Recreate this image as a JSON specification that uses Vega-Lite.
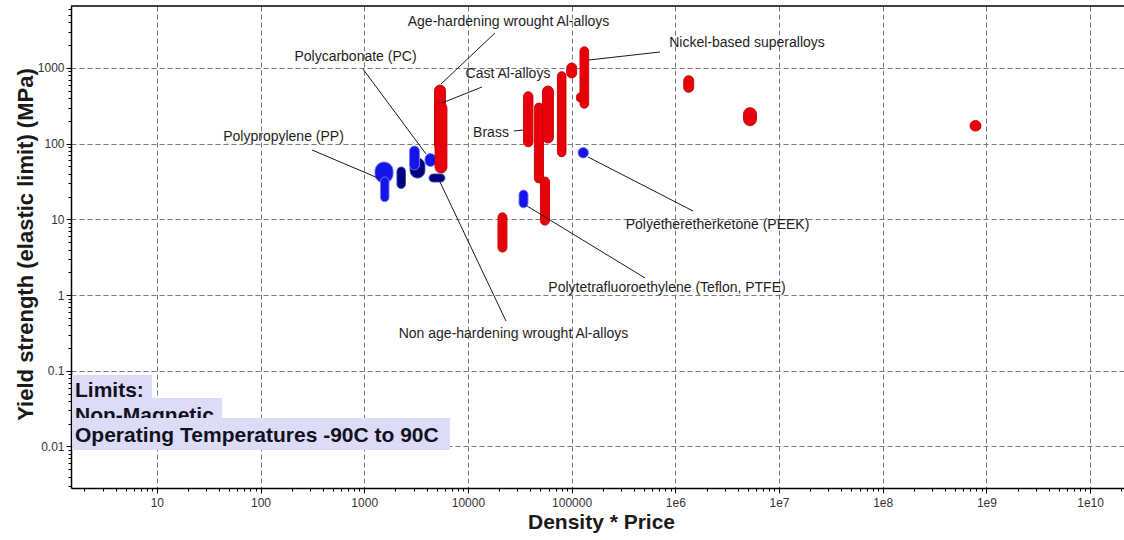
{
  "$schema": "https://vega.github.io/schema/vega-lite/v6.json",
  "width": 1053,
  "height": 482,
  "autosize": {"type": "none"},
  "padding": {"left": 71, "top": 6, "right": 0, "bottom": 52},
  "background": "white",
  "config": {
    "font": "Liberation Sans",
    "view": {"stroke": null}
  },
  "datasets": {
    "materials": [
      {"material": "Polypropylene (PP)", "family": "Polymers", "dp_lo": 1270, "dp_hi": 1900, "ys_lo": 30.3, "ys_hi": 57.3},
      {"material": "Polymer 2", "family": "Polymers", "dp_lo": 1435, "dp_hi": 1735, "ys_lo": 17.1, "ys_hi": 36.3},
      {"material": "Polymer 3", "family": "Other", "dp_lo": 2070, "dp_hi": 2500, "ys_lo": 25.6, "ys_hi": 49.2},
      {"material": "Polymer 4", "family": "Other", "dp_lo": 2770, "dp_hi": 3850, "ys_lo": 35.2, "ys_hi": 64.7},
      {"material": "Polymer 5", "family": "Polymers", "dp_lo": 2735, "dp_hi": 3410, "ys_lo": 45, "ys_hi": 93.3},
      {"material": "Polycarbonate (PC)", "family": "Polymers", "dp_lo": 3855, "dp_hi": 4920, "ys_lo": 50, "ys_hi": 74.3},
      {"material": "Age-hardening wrought Al-alloys", "family": "Metals", "dp_lo": 4765, "dp_hi": 6080, "ys_lo": 83, "ys_hi": 595},
      {"material": "Cast Al-alloys", "family": "Metals", "dp_lo": 4820, "dp_hi": 6280, "ys_lo": 41, "ys_hi": 355},
      {"material": "Metal 4", "family": "Metals", "dp_lo": 19500, "dp_hi": 23800, "ys_lo": 3.7, "ys_hi": 12.2},
      {"material": "Polytetrafluoroethylene (Teflon, PTFE)", "family": "Polymers", "dp_lo": 31100, "dp_hi": 38000, "ys_lo": 14.2, "ys_hi": 24.4},
      {"material": "Brass", "family": "Metals", "dp_lo": 34400, "dp_hi": 42400, "ys_lo": 91, "ys_hi": 486},
      {"material": "Metal 6", "family": "Metals", "dp_lo": 43800, "dp_hi": 53600, "ys_lo": 30.3, "ys_hi": 345},
      {"material": "Metal 7", "family": "Metals", "dp_lo": 52400, "dp_hi": 66800, "ys_lo": 102, "ys_hi": 578},
      {"material": "Metal 8", "family": "Metals", "dp_lo": 50100, "dp_hi": 61200, "ys_lo": 8.4, "ys_hi": 36.3},
      {"material": "Metal 9", "family": "Metals", "dp_lo": 73000, "dp_hi": 88300, "ys_lo": 67.3, "ys_hi": 894},
      {"material": "Metal 10", "family": "Metals", "dp_lo": 89700, "dp_hi": 112000, "ys_lo": 738, "ys_hi": 1164},
      {"material": "Metal 11", "family": "Metals", "dp_lo": 111500, "dp_hi": 130300, "ys_lo": 355, "ys_hi": 468},
      {"material": "Nickel-based superalloys", "family": "Metals", "dp_lo": 120500, "dp_hi": 146000, "ys_lo": 294, "ys_hi": 1910},
      {"material": "Polyetheretherketone (PEEK)", "family": "Polymers", "dp_lo": 115300, "dp_hi": 145500, "ys_lo": 64.7, "ys_hi": 89.1},
      {"material": "Metal 12", "family": "Metals", "dp_lo": 1205000, "dp_hi": 1503000, "ys_lo": 477, "ys_hi": 791},
      {"material": "Metal 13", "family": "Metals", "dp_lo": 4550000, "dp_hi": 6070000, "ys_lo": 173, "ys_hi": 299},
      {"material": "Metal 14", "family": "Metals", "dp_lo": 695000000, "dp_hi": 887000000, "ys_lo": 147, "ys_hi": 202},
      {"material": "Non age-hardening wrought Al-alloys", "family": "Other", "dp_lo": 4218, "dp_hi": 6010, "ys_lo": 31.2, "ys_hi": 39.8}
    ],
    "labels": [
      {"label": "Age-hardening wrought Al-alloys", "lx": 24640, "ly": 4053, "ax": 18250, "ay": 2900, "bx": 5503, "by": 614.5},
      {"label": "Polycarbonate (PC)", "lx": 824, "ly": 1409, "ax": 973.6, "ay": 970, "bx": 3944, "by": 73.1},
      {"label": "Cast Al-alloys", "lx": 24360, "ly": 833, "ax": 13680, "ay": 561, "bx": 5626, "by": 345},
      {"label": "Nickel-based superalloys", "lx": 4914000, "ly": 2107, "ax": 712000, "ay": 1627, "bx": 147200, "by": 1276},
      {"label": "Polypropylene (PP)", "lx": 166.7, "ly": 123.8, "ax": 313.7, "ay": 82.6, "bx": 1359, "by": 35.2},
      {"label": "Brass", "lx": 16700, "ly": 137.2, "ax": 27840, "ay": 147.2, "bx": 33990, "by": 151.7},
      {"label": "Polyetheretherketone (PEEK)", "lx": 2552000, "ly": 8.43, "ax": 1482000, "ay": 12.91, "bx": 143900, "by": 66.7},
      {"label": "Polytetrafluoroethylene (Teflon, PTFE)", "lx": 832000, "ly": 1.241, "ax": 510400, "ay": 1.682, "bx": 37150, "by": 15.03},
      {"label": "Non age-hardening wrought Al-alloys", "lx": 27530, "ly": 0.306, "ax": 23300, "ay": 0.4548, "bx": 5383, "by": 31.2}
    ],
    "notes": [
      {"line": 1, "note": "Limits:", "bx0": 1.53, "bx1": 8.99, "by0": 0.0411, "by1": 0.088, "tx": 1.626, "ty": 0.0447},
      {"line": 2, "note": "Non-Magnetic", "bx0": 1.53, "bx1": 42.6, "by0": 0.0231, "by1": 0.0438, "tx": 1.626, "ty": 0.0212},
      {"line": 3, "note": "Operating Temperatures -90C to 90C", "bx0": 1.53, "bx1": 6715, "by0": 0.009, "by1": 0.02379, "tx": 1.626, "ty": 0.011468}
    ]
  },
  "layer": [
    {
      "data": {"name": "materials"},
      "mark": {"type": "rect", "cornerRadius": 200, "strokeWidth": 0.9},
      "encoding": {
        "x": {
          "field": "dp_lo",
          "type": "quantitative",
          "scale": {"type": "log", "domain": [1.488, 21230000000], "nice": false, "zero": false},
          "axis": {
            "title": "Density * Price",
            "values": [2, 3, 4, 5, 6, 7, 8, 9, 10, 20, 30, 40, 50, 60, 70, 80, 90, 100, 200, 300, 400, 500, 600, 700, 800, 900, 1000, 2000, 3000, 4000, 5000, 6000, 7000, 8000, 9000, 10000, 20000, 30000, 40000, 50000, 60000, 70000, 80000, 90000, 100000, 200000, 300000, 400000, 500000, 600000, 700000, 800000, 900000, 1000000, 2000000, 3000000, 4000000, 5000000, 6000000, 7000000, 8000000, 9000000, 10000000, 20000000, 30000000, 40000000, 50000000, 60000000, 70000000, 80000000, 90000000, 100000000, 200000000, 300000000, 400000000, 500000000, 600000000, 700000000, 800000000, 900000000, 1000000000, 2000000000, 3000000000, 4000000000, 5000000000, 6000000000, 7000000000, 8000000000, 9000000000, 10000000000, 20000000000],
            "labelExpr": "abs(log(datum.value) / LN10 - round(log(datum.value) / LN10)) < 0.001 ? (datum.value >= 1000000 ? '1e' + round(log(datum.value) / LN10) : '' + datum.value) : ''",
            "labelOverlap": false,
            "labelFlush": false,
            "labelFontSize": 12,
            "labelColor": "#333333",
            "labelPadding": 4,
            "tickSize": {"condition": {"test": "abs(log(datum.value) / LN10 - round(log(datum.value) / LN10)) < 0.001", "value": 5}, "value": 3},
            "tickColor": "#000000",
            "domainColor": "#000000",
            "domainWidth": 1.5,
            "grid": true,
            "gridColor": "#7a7a7a",
            "gridDash": [5, 3],
            "gridWidth": 1,
            "gridOpacity": {"condition": {"test": "abs(log(datum.value) / LN10 - round(log(datum.value) / LN10)) < 0.001", "value": 1}, "value": 0},
            "titleFontSize": 21,
            "titleFontWeight": "bold",
            "titleColor": "#1a1a1a",
            "titleX": 530,
            "titleY": 34,
            "titleAlign": "center",
            "titleBaseline": "middle"
          }
        },
        "x2": {"field": "dp_hi"},
        "y": {
          "field": "ys_lo",
          "type": "quantitative",
          "scale": {"type": "log", "domain": [0.002829, 6592], "nice": false, "zero": false},
          "axis": {
            "title": "Yield strength (elastic limit) (MPa)",
            "values": [0.003, 0.004, 0.005, 0.006, 0.007, 0.008, 0.009, 0.01, 0.02, 0.03, 0.04, 0.05, 0.06, 0.07, 0.08, 0.09, 0.1, 0.2, 0.3, 0.4, 0.5, 0.6, 0.7, 0.8, 0.9, 1, 2, 3, 4, 5, 6, 7, 8, 9, 10, 20, 30, 40, 50, 60, 70, 80, 90, 100, 200, 300, 400, 500, 600, 700, 800, 900, 1000, 2000, 3000, 4000, 5000, 6000],
            "labelExpr": "abs(log(datum.value) / LN10 - round(log(datum.value) / LN10)) < 0.001 ? '' + datum.value : ''",
            "labelOverlap": false,
            "labelFlush": false,
            "labelFontSize": 12,
            "labelColor": "#333333",
            "labelPadding": 2,
            "tickSize": {"condition": {"test": "abs(log(datum.value) / LN10 - round(log(datum.value) / LN10)) < 0.001", "value": 5}, "value": 3},
            "tickColor": "#000000",
            "domainColor": "#000000",
            "domainWidth": 1.5,
            "grid": true,
            "gridColor": "#7a7a7a",
            "gridDash": [5, 3],
            "gridWidth": 1,
            "gridOpacity": {"condition": {"test": "abs(log(datum.value) / LN10 - round(log(datum.value) / LN10)) < 0.001", "value": 1}, "value": 0},
            "titleFontSize": 22,
            "titleFontWeight": "bold",
            "titleColor": "#1a1a1a",
            "titleAngle": 270,
            "titleX": -46,
            "titleY": 238,
            "titleAlign": "center",
            "titleBaseline": "middle"
          }
        },
        "y2": {"field": "ys_hi"},
        "fill": {
          "field": "family",
          "type": "nominal",
          "scale": {"domain": ["Metals", "Polymers", "Other"], "range": ["#e8000b", "#1414e8", "#00007e"]},
          "legend": null
        },
        "stroke": {
          "field": "family",
          "type": "nominal",
          "scale": {"domain": ["Metals", "Polymers", "Other"], "range": ["#c20000", "#7c7cff", "#4040b0"]},
          "legend": null
        }
      }
    },
    {
      "data": {"values": [{"top": 6592}]},
      "mark": {"type": "rule", "color": "#000000", "strokeWidth": 1.5},
      "encoding": {"y": {"field": "top", "type": "quantitative"}}
    },
    {
      "data": {"name": "labels"},
      "mark": {"type": "rule", "color": "#1a1a1a", "strokeWidth": 1},
      "encoding": {
        "x": {"field": "ax", "type": "quantitative"},
        "y": {"field": "ay", "type": "quantitative"},
        "x2": {"field": "bx"},
        "y2": {"field": "by"}
      }
    },
    {
      "data": {"name": "labels"},
      "mark": {"type": "text", "fontSize": 14, "color": "#1e1e1e", "align": "center", "baseline": "middle"},
      "encoding": {
        "x": {"field": "lx", "type": "quantitative"},
        "y": {"field": "ly", "type": "quantitative"},
        "text": {"field": "label"}
      }
    },
    {
      "data": {"name": "notes"},
      "transform": [{"filter": "datum.line <= 2"}],
      "mark": {"type": "rect", "color": "#dcdcf6"},
      "encoding": {
        "x": {"field": "bx0", "type": "quantitative"},
        "x2": {"field": "bx1"},
        "y": {"field": "by0", "type": "quantitative"},
        "y2": {"field": "by1"}
      }
    },
    {
      "data": {"name": "notes"},
      "transform": [{"filter": "datum.line <= 2"}],
      "mark": {"type": "text", "fontSize": 21, "fontWeight": "bold", "color": "#111122", "align": "left", "baseline": "alphabetic"},
      "encoding": {
        "x": {"field": "tx", "type": "quantitative"},
        "y": {"field": "ty", "type": "quantitative"},
        "text": {"field": "note"}
      }
    },
    {
      "data": {"name": "notes"},
      "transform": [{"filter": "datum.line == 3"}],
      "mark": {"type": "rect", "color": "#dcdcf6"},
      "encoding": {
        "x": {"field": "bx0", "type": "quantitative"},
        "x2": {"field": "bx1"},
        "y": {"field": "by0", "type": "quantitative"},
        "y2": {"field": "by1"}
      }
    },
    {
      "data": {"name": "notes"},
      "transform": [{"filter": "datum.line == 3"}],
      "mark": {"type": "text", "fontSize": 21, "fontWeight": "bold", "color": "#111122", "align": "left", "baseline": "alphabetic"},
      "encoding": {
        "x": {"field": "tx", "type": "quantitative"},
        "y": {"field": "ty", "type": "quantitative"},
        "text": {"field": "note"}
      }
    }
  ]
}
